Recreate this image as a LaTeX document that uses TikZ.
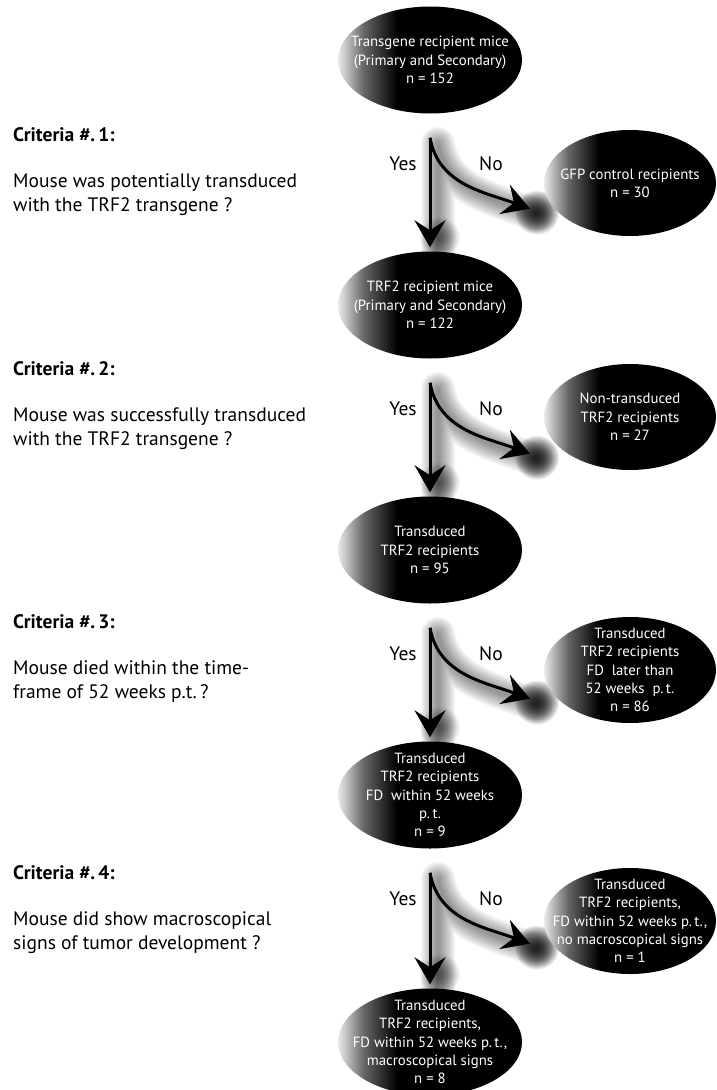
\documentclass[tikz,border=0pt]{standalone}
\usepackage{fontspec}
\setmainfont{PT Sans}
\usetikzlibrary{shapes.geometric,arrows.meta,calc}
\pgfdeclarelayer{back}
\pgfsetlayers{back,main}
\pgfdeclarehorizontalshading{ellfill}{100bp}{color(0bp)=(white); color(25bp)=(black!8); color(32bp)=(black!60); color(41bp)=(black); color(100bp)=(black)}
\newcommand{\ellfont}{\fontsize{14.8}{18.3}\selectfont}
\newcommand{\askfont}{\fontsize{19.5}{24}\selectfont}
\tikzset{
	group/.style={ellipse, shade, shading=ellfill, text=white, font=\ellfont, align=center, inner sep=-25pt, minimum width=184pt, minimum height=107pt},
	outgroup/.style={group, minimum width=172pt, minimum height=106pt},
	crit/.style={anchor=west, inner sep=0pt, font=\askfont\bfseries},
	ask/.style={anchor=west, inner sep=0pt, align=left, font=\askfont},
	yesno/.style={inner sep=0pt, font=\askfont},
	flow/.style={line width=3pt, -{Stealth[length=27pt,width=31pt,inset=10pt]}},
	haze/.style={line width=#1, opacity=.03, line cap=round},
}
\newcommand{\flowshadow}[3]{%
	\foreach \w in {2,4,...,34}
		\draw[haze=\w pt] ([shift={(8,-6)}]#1) -- ([shift={(8,-2)}]#3.north)
			([shift={(8,-6)}]#1) to[out=-80, in=160] ([shift={(6,-6)}]#2);
	\foreach \r in {3,...,22}
		\fill[opacity=.07] ([shift={(7,-4)}]#2) circle (\r pt);
	\foreach \r in {3,...,20}
		\fill[opacity=.035] ([shift={(10,14)}]#3.north) circle (\r pt);
}

\begin{document}
\begin{tikzpicture}[x=1pt, y=1pt]
	\useasboundingbox (0,0) rectangle (716,-1090);

	\node[group] (m1) at (430,-60) {Transgene recipient mice\\(Primary and Secondary)\\n = 152};
	\node[group] (m2) at (430,-305) {TRF2 recipient mice\\(Primary and Secondary)\\n = 122};
	\node[group] (m3) at (430,-550) {Transduced\\TRF2 recipients\\n = 95};
	\node[group] (m4) at (430,-795) {Transduced\\TRF2 recipients\\FD\ \ within 52 weeks\\p.\,t.\\n = 9};
	\node[group] (m5) at (430,-1042) {Transduced\\TRF2 recipients,\\FD within 52 weeks p.\,t.,\\macroscopical signs\\n = 8};

	\node[outgroup] (s1) at (630,-183) {GFP control recipients\\n = 30};
	\node[outgroup] (s2) at (630,-417) {Non-transduced\\TRF2 recipients\\n = 27};
	\node[outgroup] (s3) at (630,-670) {Transduced\\TRF2 recipients\\FD\ \ later than\\52 weeks\ \ p.\,t.\\n = 86};
	\node[outgroup] (s4) at (630,-921) {Transduced\\TRF2 recipients,\\FD within 52 weeks p.\,t.,\\no macroscopical signs\\n = 1};

	\node[crit] (c1) at (13,-135) {Criteria \#.\,1:};
	\node[ask] (q1) at (13,-195) {Mouse was potentially transduced\\with the TRF2 transgene ?};
	\node[crit] (c2) at (13,-369) {Criteria \#.\,2:};
	\node[ask] (q2) at (13,-429) {Mouse was successfully transduced\\with the TRF2 transgene ?};
	\node[crit] (c3) at (13,-622) {Criteria \#.\,3:};
	\node[ask] (q3) at (13,-682) {Mouse died within the time-\\frame of 52 weeks p.t.\,?};
	\node[crit] (c4) at (13,-873) {Criteria \#.\,4:};
	\node[ask] (q4) at (13,-933) {Mouse did show macroscopical\\signs of tumor development ?};

	\foreach \i/\j in {1/2,2/3,3/4,4/5}{
		\coordinate (o\i) at ($(m\i.south)+(0,-24)$);
		\coordinate (n\i) at ($(o\i)+(100,-71)$);
		\node[yesno] (y\i) at ($(o\i)+(-27,-26)$) {Yes};
		\node[yesno] (x\i) at ($(o\i)+(61,-26)$) {No};
		\begin{pgfonlayer}{back}
			\flowshadow{o\i}{n\i}{m\j}
		\end{pgfonlayer}
		\path[flow]
			(o\i) edge[shorten >=4pt] (m\j.north)
			      edge[out=-80, in=160] (n\i);
	}
\end{tikzpicture}
\end{document}
